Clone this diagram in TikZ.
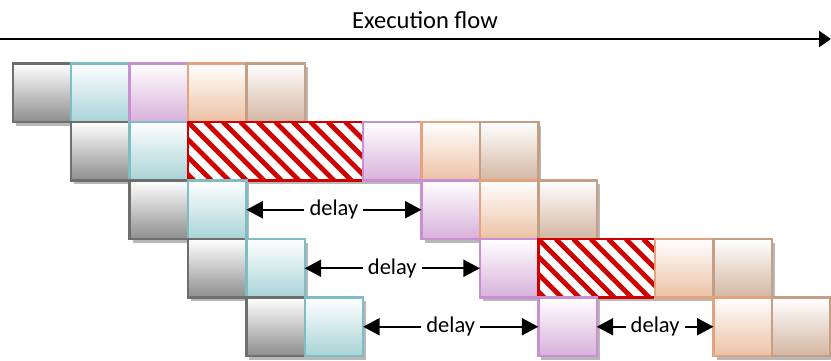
\documentclass[tikz,border=0pt]{standalone}
\usepackage{fontspec}
\setmainfont{Carlito}
\usetikzlibrary{arrows.meta,calc,shadows}

\definecolor{gBorder}{HTML}{6E6E6E}
\definecolor{gFill}{HTML}{8E8E8E}
\definecolor{tBorder}{HTML}{7FBDC4}
\definecolor{tFill}{HTML}{A9D3D7}
\definecolor{pBorder}{HTML}{C890D0}
\definecolor{pFill}{HTML}{D8B0DB}
\definecolor{oBorder}{HTML}{E3A37F}
\definecolor{oFill}{HTML}{ECC1A4}
\definecolor{nBorder}{HTML}{C49E85}
\definecolor{nFill}{HTML}{D3B6A2}
\definecolor{stall}{HTML}{D00000}

\begin{document}
\begin{tikzpicture}[x=1pt,y=-1pt,
  cell/.style={rectangle, anchor=north west, minimum width=58.4pt,
    minimum height=58.5pt, inner sep=0pt, outer sep=0pt, line width=2.4pt,
    drop shadow={shadow xshift=3pt, shadow yshift=-3.5pt, opacity=0.28, fill=black}},
  gcell/.style={cell, draw=gBorder, top color=white, bottom color=gFill},
  tcell/.style={cell, draw=tBorder, top color=white, bottom color=tFill},
  pcell/.style={cell, draw=pBorder, top color=white, bottom color=pFill},
  ocell/.style={cell, draw=oBorder, top color=white, bottom color=oFill},
  ncell/.style={cell, draw=nBorder, top color=white, bottom color=nFill},
  hcell/.style={cell, draw=stall, fill=white, minimum width=#1*58.4pt,
    path picture={
      \foreach \k in {-6,...,14}
        \draw[stall, line width=4.8pt]
          ($(path picture bounding box.north west)+(\k*17.5pt,0pt)$) -- ++(80pt,-80pt);
    }},
  lbl/.style={inner sep=5pt, font=\fontsize{22.5}{26}\selectfont},
  darr/.style={line width=2.2pt, -{Triangle[length=16.5pt,width=17pt]}},
]
\useasboundingbox (0,0) rectangle (831,360);

% execution-flow axis
\node[font=\fontsize{24.5}{28}\selectfont] (title) at (425,20) {Execution flow};
\coordinate (fs) at (0,39);
\coordinate (fe) at (831,39);
\draw[line width=2.6pt, -{Triangle[length=12pt,width=16pt]}] (fs) -- (fe);

% stage 1
\node[gcell] (a0) at (12.7+58.4*0, 63.5) {};
\node[tcell] (a1) at (12.7+58.4*1, 63.5) {};
\node[pcell] (a2) at (12.7+58.4*2, 63.5) {};
\node[ocell] (a3) at (12.7+58.4*3, 63.5) {};
\node[ncell] (a4) at (12.7+58.4*4, 63.5) {};

% stage 2
\node[gcell] (b1) at (12.7+58.4*1, 63.5+58.5) {};
\node[tcell] (b2) at (12.7+58.4*2, 63.5+58.5) {};
\node[hcell=3] (b3) at (12.7+58.4*3, 63.5+58.5) {};
\node[pcell] (b6) at (12.7+58.4*6, 63.5+58.5) {};
\node[ocell] (b7) at (12.7+58.4*7, 63.5+58.5) {};
\node[ncell] (b8) at (12.7+58.4*8, 63.5+58.5) {};

% stage 3
\node[gcell] (c2) at (12.7+58.4*2, 63.5+58.5*2) {};
\node[tcell] (c3) at (12.7+58.4*3, 63.5+58.5*2) {};
\node[pcell] (c7) at (12.7+58.4*7, 63.5+58.5*2) {};
\node[ocell] (c8) at (12.7+58.4*8, 63.5+58.5*2) {};
\node[ncell] (c9) at (12.7+58.4*9, 63.5+58.5*2) {};

% stage 4
\node[gcell] (d3) at (12.7+58.4*3, 63.5+58.5*3) {};
\node[tcell] (d4) at (12.7+58.4*4, 63.5+58.5*3) {};
\node[pcell] (d8) at (12.7+58.4*8, 63.5+58.5*3) {};
\node[hcell=2] (d9) at (12.7+58.4*9, 63.5+58.5*3) {};
\node[ocell] (d11) at (12.7+58.4*11, 63.5+58.5*3) {};
\node[ncell] (d12) at (12.7+58.4*12, 63.5+58.5*3) {};

% stage 5
\node[gcell] (e4) at (12.7+58.4*4, 63.5+58.5*4) {};
\node[tcell] (e5) at (12.7+58.4*5, 63.5+58.5*4) {};
\node[pcell] (e9) at (12.7+58.4*9, 63.5+58.5*4) {};
\node[ocell] (e12) at (12.7+58.4*12, 63.5+58.5*4) {};
\node[ncell] (e13) at (12.7+58.4*13, 63.5+58.5*4) {};

% delays
\node[lbl] (dl1) at ($(c3.east)!0.5!(c7.west)$) {delay};
\draw[darr] (dl1.west) -- (c3.east);
\draw[darr] (dl1.east) -- (c7.west);

\node[lbl] (dl2) at ($(d4.east)!0.5!(d8.west)$) {delay};
\draw[darr] (dl2.west) -- (d4.east);
\draw[darr] (dl2.east) -- (d8.west);

\node[lbl] (dl3) at ($(e5.east)!0.5!(e9.west)$) {delay};
\draw[darr] (dl3.west) -- (e5.east);
\draw[darr] (dl3.east) -- (e9.west);

\node[lbl] (dl4) at ($(e9.east)!0.5!(e12.west)$) {delay};
\draw[darr] (dl4.west) -- (e9.east);
\draw[darr] (dl4.east) -- (e12.west);
\end{tikzpicture}
\end{document}
